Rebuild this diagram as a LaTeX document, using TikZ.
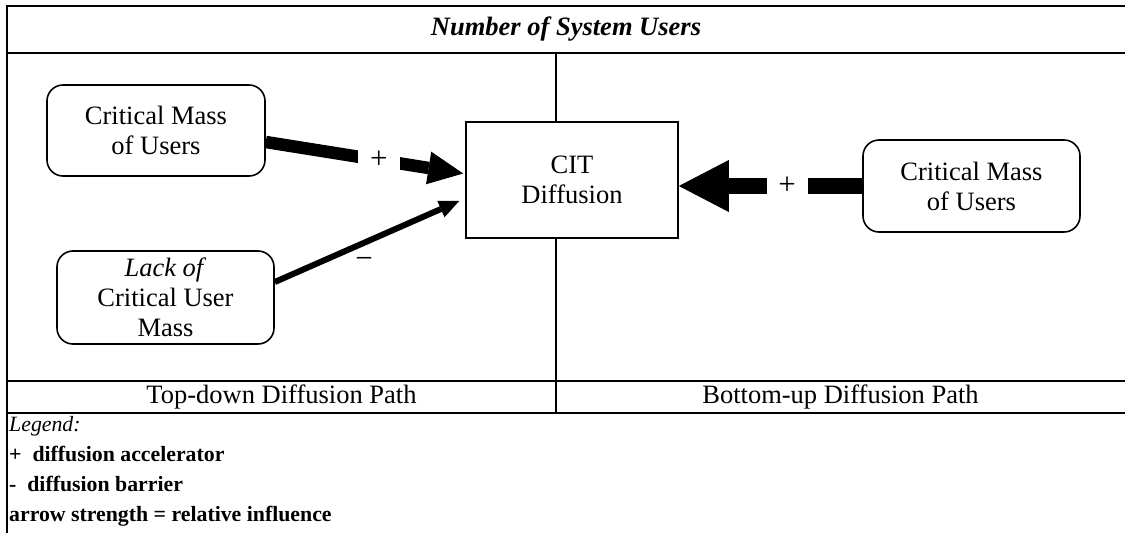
\documentclass[tikz,border=0pt]{standalone}
\usepackage{fontspec}
\setmainfont{Liberation Serif}
\usetikzlibrary{arrows.meta}

\newcommand\boxfont{\fontsize{26.5}{30}\selectfont}
\newcommand\legfont{\fontsize{21.8}{30}\selectfont}
\newcommand\signfont{\fontsize{31}{30}\selectfont}

\tikzset{
  rulebold/.style={line width=2pt},
  ruledivider/.style={line width=1.5pt},
  rbox/.style={draw, line width=1.6pt, rounded corners=16pt, fill=white,
    inner sep=0pt, align=center, font=\boxfont},
  sqbox/.style={draw, line width=1.6pt, fill=white,
    inner sep=0pt, align=center, font=\boxfont},
  celltext/.style={inner sep=0pt, font=\boxfont},
  legtext/.style={anchor=base west, inner sep=0pt, font=\legfont},
  sign/.style={fill=white, inner sep=0pt, minimum height=26pt, font=\signfont},
  strongarrow/.style={line width=16.5pt, -{Triangle[length=50pt,width=52pt,line width=0pt]}},
  mediumarrow/.style={line width=12.5pt, -{Triangle[length=35pt,width=33pt,line width=0pt]}},
  weakarrow/.style={line width=6pt, -{Triangle[length=20pt,width=18pt,line width=0pt]}}
}

\begin{document}
\begin{tikzpicture}[x=1pt, y=-1pt]
  \useasboundingbox (0,0) rectangle (1125,533);

  % table rules
  \draw[rulebold] (7,6) -- (1125,6);
  \draw[rulebold] (7,53) -- (1125,53);
  \draw[rulebold] (7,381) -- (1125,381);
  \draw[rulebold] (7,413) -- (1125,413);
  \draw[rulebold] (7,5) -- (7,533);
  \draw[ruledivider] (556,53) -- (556,413);

  % header and path labels
  \node[celltext, font=\boxfont\bfseries\itshape] (title) at (566,29) {Number of System Users};
  \node[celltext] (topdown) at (281.5,397) {Top-down Diffusion Path};
  \node[celltext] (bottomup) at (840.5,397) {Bottom-up Diffusion Path};

  % boxes
  \node[rbox, minimum width=218pt, minimum height=91pt] (massL) at (156,130.5) {Critical Mass\\of Users};
  \node[rbox, minimum width=217pt, minimum height=93pt] (lack) at (165.5,297.5) {\textit{Lack of}\\Critical User\\Mass};
  \node[sqbox, minimum width=212pt, minimum height=116pt] (cit) at (572,180) {CIT\\Diffusion};
  \node[rbox, minimum width=217pt, minimum height=92pt] (massR) at (971.5,186) {Critical Mass\\of Users};

  % influence arrows
  \draw[mediumarrow] ([yshift=-11.5pt]massL.east)
    -- node[sign, pos=0.573, minimum width=42pt] {+}
    ([xshift=-2pt,yshift=6.5pt]cit.west);
  \draw[weakarrow] ([yshift=15.5pt]lack.east)
    -- node[inner sep=0pt, font=\signfont, pos=0.484, yshift=-20pt] {−}
    ([xshift=-6pt,yshift=-21pt]cit.west);
  \draw[strongarrow] (massR.west)
    -- node[sign, pos=0.41, minimum width=41pt] {+}
    ([yshift=-6pt]cit.east);

  % legend
  \node[legtext] (leg0) at (9,431) {\textit{Legend:}};
  \node[legtext] (leg1) at (9,461) {\textbf{+\ \ diffusion accelerator}};
  \node[legtext] (leg2) at (9,491) {\textbf{-\ \ diffusion barrier}};
  \node[legtext] (leg3) at (9,521) {\textbf{arrow strength = relative influence}};
\end{tikzpicture}
\end{document}
